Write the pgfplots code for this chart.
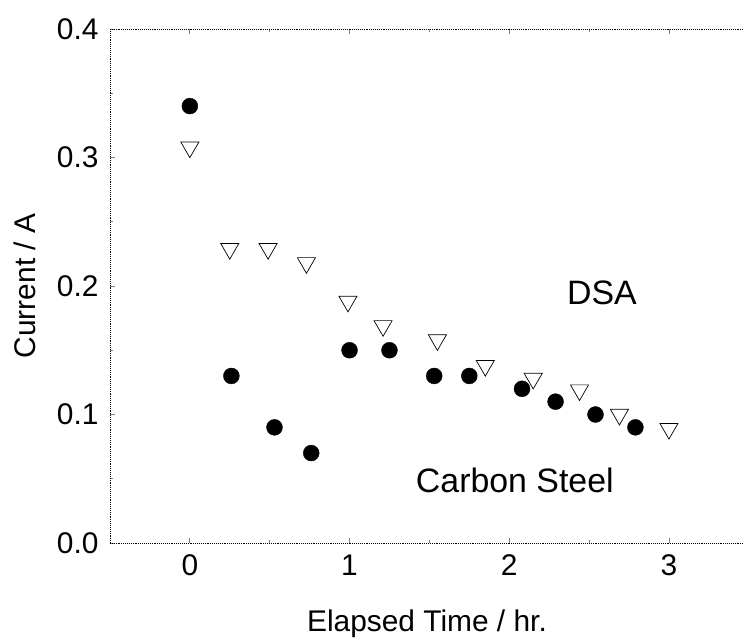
\documentclass[border=0pt]{standalone}
\usepackage{fontspec}
\setmainfont{Liberation Sans}
\usepackage{pgfplots}
\pgfplotsset{compat=1.18}

\begin{document}
\begin{tikzpicture}
\begin{axis}[
    scale only axis,
    width=634bp, height=514bp,
    xmin=-0.5, xmax=3.47,
    ymin=0, ymax=0.4,
    axis x line=box,
    axis y line*=left,
    axis line style={densely dotted, line width=0.9pt},
    xtick={0,1,2,3},
    ytick={0,0.1,0.2,0.3,0.4},
    minor tick num=1,
    tick align=inside,
    major tick length=5bp,
    minor tick length=3bp,
    tick style={line width=0.8pt},
    /pgf/number format/assume math mode=true,
    ticklabel style={font=\fontsize{30}{35}\selectfont},
    xticklabel style={yshift=-8bp},
    yticklabel style={xshift=-8bp, /pgf/number format/fixed, /pgf/number format/fixed zerofill, /pgf/number format/precision=1},
    label style={font=\fontsize{30}{35}\selectfont},
    xlabel={Elapsed Time / hr.},
    ylabel={Current / A},
    xlabel style={yshift=-27bp},
    ylabel style={yshift=14bp},
    clip=false,
]
% carbon steel
\addplot[only marks, mark=*, mark size=8pt, mark options={fill=black, draw=black}] coordinates {
    (0.00, 0.340)
    (0.26, 0.130)
    (0.53, 0.090)
    (0.76, 0.070)
    (1.00, 0.150)
    (1.25, 0.150)
    (1.53, 0.130)
    (1.75, 0.130)
    (2.08, 0.120)
    (2.29, 0.110)
    (2.54, 0.100)
    (2.79, 0.090)
};
% DSA
\addplot[only marks, mark=triangle, mark size=10.5pt, mark options={rotate=180, draw=black, line width=0.7pt, fill=none}] coordinates {
    (0.00, 0.308)
    (0.25, 0.229)
    (0.49, 0.229)
    (0.73, 0.218)
    (0.99, 0.188)
    (1.21, 0.169)
    (1.55, 0.158)
    (1.85, 0.138)
    (2.15, 0.128)
    (2.44, 0.119)
    (2.69, 0.100)
    (3.00, 0.089)
};
\node[font=\fontsize{34}{40}\selectfont] at (axis cs:2.58,0.195) {DSA};
\node[font=\fontsize{34}{40}\selectfont] at (axis cs:2.035,0.049) {Carbon Steel};
\end{axis}
\pgfresetboundingbox
\path (current axis.south west) ++(-110bp,-101bp) coordinate (bl);
\path (current axis.north east) ++(0bp,29bp) coordinate (tr);
\useasboundingbox (bl) rectangle (tr);
\end{tikzpicture}
\end{document}
